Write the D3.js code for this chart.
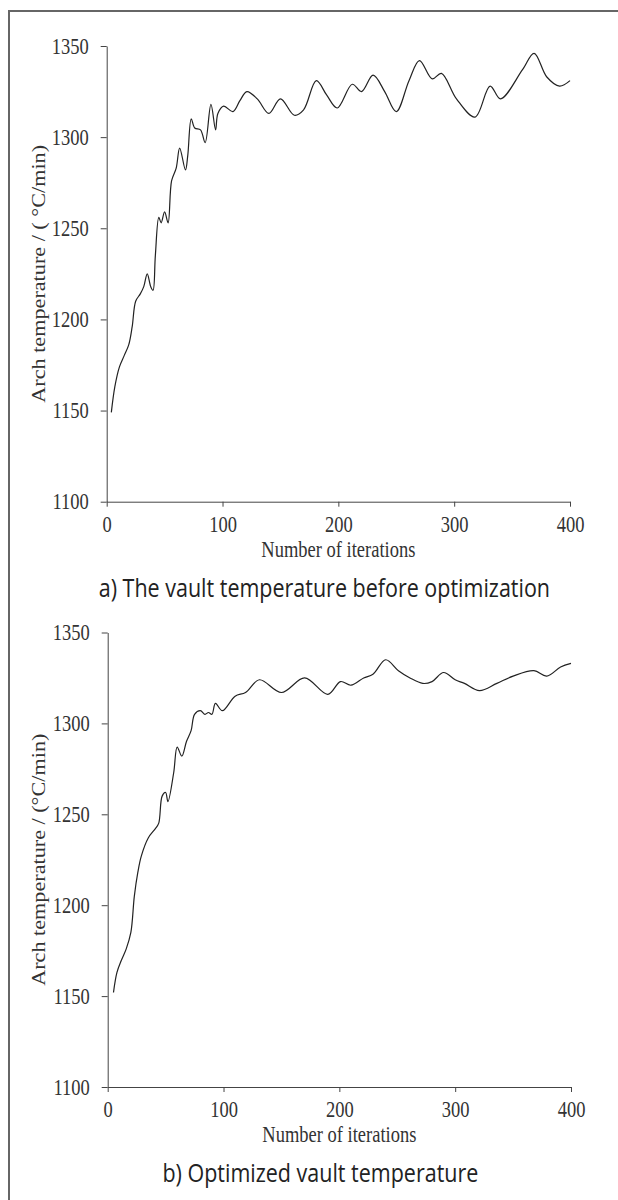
<!DOCTYPE html>
<html lang="en">
<head>
<meta charset="utf-8">
<title>Arch temperature vs iterations</title>
<script src="https://d3js.org/d3.v7.min.js"></script>
<style type="text/css">
  body { margin: 0; background: #fff; }
  .tick text { font-family: "Liberation Serif", "Times New Roman", serif; font-size: 18.5px; fill: #333; }
  .axis path, .axis line { stroke: #444; stroke-width: 1; }
  .axtitle { font-family: "Liberation Serif", "Times New Roman", serif; font-size: 18.5px; fill: #333; }
  .caption { font-family: "Open Sans", "Noto Sans", sans-serif; font-size: 21.5px; fill: #222; }
</style>
</head>
<body>
<script type="text/javascript">
// ---- data ----
var xTicks = [0, 100, 200, 300, 400];
var yTicks = [1100, 1150, 1200, 1250, 1300, 1350];

// a) before optimization
var iterA = [4, 7, 11, 15, 19, 22, 25, 29, 32, 35, 38, 40, 42, 45, 47, 50, 53, 56, 60, 63, 68, 70, 73, 76, 81, 85, 90, 94, 96, 101, 109, 115, 121, 130, 140, 150, 162, 170, 181, 190, 199, 212, 220, 230, 240, 250, 261, 270, 281, 289, 302, 318, 331, 340, 359, 369, 380, 391, 400];
var tempA = [1149, 1163, 1174, 1180, 1186, 1196, 1210, 1214, 1218, 1225, 1218, 1216, 1235, 1256, 1253, 1259, 1253, 1276, 1283, 1294, 1282, 1290, 1310, 1305, 1304, 1297, 1318, 1304, 1313, 1317, 1314, 1320, 1325, 1321, 1313, 1321, 1312, 1315, 1331, 1323, 1316, 1329, 1325, 1334, 1325, 1314, 1331, 1342, 1332, 1335, 1321, 1311, 1328, 1321, 1337, 1346, 1333, 1328, 1331];

// b) optimized
var iterB = [5, 8, 12, 16, 20, 23, 26, 29, 35, 41, 44, 47, 50, 52, 57, 60, 64, 68, 72, 75, 80, 84, 87, 90, 93, 99, 110, 119, 131, 150, 170, 190, 201, 210, 221, 229, 240, 251, 261, 272, 280, 290, 300, 308, 321, 336, 350, 368, 379, 391, 400];
var tempB = [1152, 1163, 1170, 1176, 1185, 1205, 1218, 1227, 1237, 1242, 1245, 1260, 1262, 1257, 1273, 1287, 1282, 1290, 1296, 1305, 1307, 1305, 1306, 1305, 1311, 1307, 1315, 1317, 1324, 1317, 1325, 1316, 1323, 1321, 1325, 1327, 1335, 1329, 1325, 1322, 1323, 1328, 1324, 1322, 1318, 1322, 1326, 1329, 1326, 1331, 1333];

var W = 618, H = 1200;
var stretch = 1.2;   // the source figure is a bit taller than wide, text looks stretched

var svg = d3.select("body").append("svg")
    .attr("width", W)
    .attr("height", H);

// outer frame (right and bottom edges run off the page)
svg.append("rect")
    .attr("x", 9).attr("y", 11)
    .attr("width", 800).attr("height", 1400)
    .attr("fill", "none")
    .attr("stroke", "#666")
    .attr("stroke-width", 2);

function drawPanel(iters, temps, top, bottom, left, right, yTitle, caption, capShift) {
    var x = d3.scaleLinear().domain([0, 400]).range([left, right]);
    var y = d3.scaleLinear().domain([1100, 1350]).range([bottom, top]);

    var g = svg.append("g");

    var yAxis = g.append("g")
        .attr("class", "axis")
        .attr("transform", "translate(" + left + ",0)")
        .call(d3.axisLeft(y).tickValues(yTicks).tickFormat(d3.format("d"))
            .tickSize(6).tickPadding(12).tickSizeOuter(0));
    yAxis.selectAll(".tick text")
        .attr("transform", "scale(1," + stretch + ")");

    var xAxis = g.append("g")
        .attr("class", "axis")
        .attr("transform", "translate(0," + bottom + ")")
        .call(d3.axisBottom(x).tickValues(xTicks).tickFormat(d3.format("d"))
            .tickSize(5).tickPadding(7).tickSizeOuter(0));
    xAxis.selectAll(".tick text")
        .attr("transform", "scale(1," + stretch + ")");

    var pts = iters.map(function(d, i) { return [d, temps[i]]; });
    var line = d3.line()
        .x(function(d) { return x(d[0]); })
        .y(function(d) { return y(d[1]); })
        .curve(d3.curveCatmullRom.alpha(0.5));

    g.append("path")
        .datum(pts)
        .attr("d", line)
        .attr("fill", "none")
        .attr("stroke", "#222")
        .attr("stroke-width", 1.2);

    // y title, stretched along its length like the source
    g.append("text")
        .attr("class", "axtitle")
        .attr("text-anchor", "middle")
        .attr("transform", "translate(45," + ((top + bottom) / 2) + ") rotate(-90) scale(" + stretch + ",1)")
        .text(yTitle);

    g.append("text")
        .attr("class", "axtitle")
        .attr("text-anchor", "middle")
        .attr("transform", "translate(" + ((left + right) / 2) + "," + (bottom + 55) + ") scale(1," + stretch + ")")
        .text("Number of iterations");

    g.append("text")
        .attr("class", "caption")
        .attr("text-anchor", "middle")
        .attr("transform", "translate(" + ((left + right) / 2 + capShift) + "," + (bottom + 95) + ") scale(1," + stretch + ")")
        .text(caption);
}

drawPanel(iterA, tempA, 46, 501.7, 106.7, 570, "Arch temperature / ( \u00b0C/min)",
    "a) The vault temperature before optimization", -14);
drawPanel(iterB, tempB, 632.5, 1087, 107.7, 571, "Arch temperature / (\u00b0C/min)",
    "b) Optimized vault temperature", -19);
</script>
</body>
</html>
